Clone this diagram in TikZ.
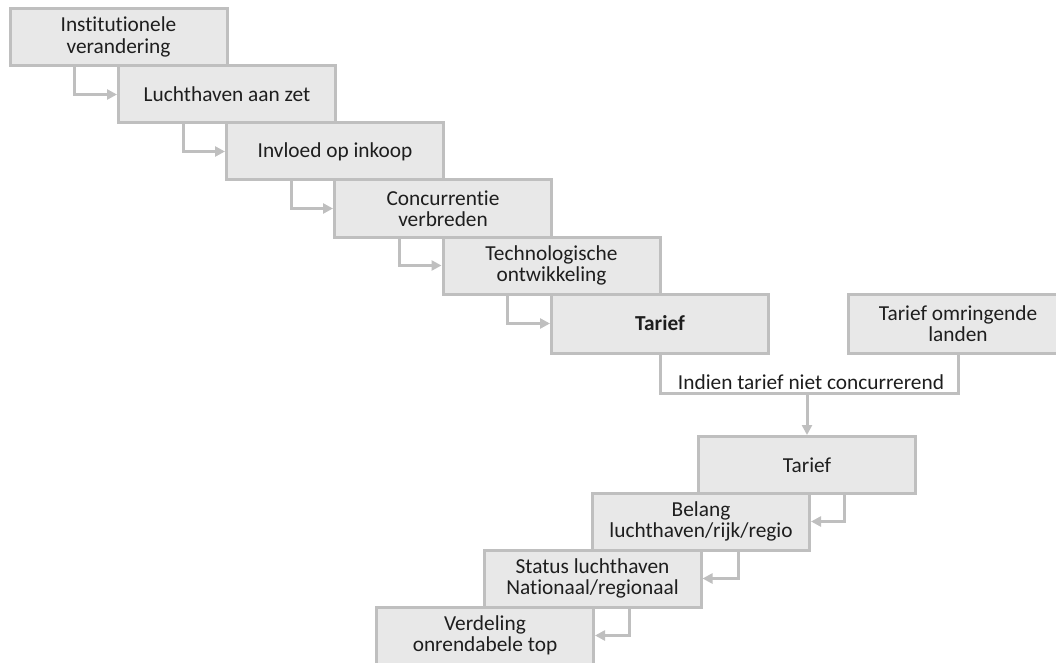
\documentclass[tikz,border=0pt]{standalone}
\usepackage{fontspec}
\setmainfont{Carlito}[Ligatures=NoCommon]
\usetikzlibrary{arrows.meta}
\definecolor{vakvul}{HTML}{E8E8E8}
\definecolor{vaklijn}{HTML}{BFBFBF}
\definecolor{tekstkleur}{HTML}{1E1E1E}
\begin{document}
\begin{tikzpicture}[x=0.75pt,y=-0.75pt,
	fase/.style={draw=vaklijn, fill=vakvul, line width=2.25pt, minimum width=162.75pt, minimum height=42.75pt, align=center, inner sep=1pt, text=tekstkleur, font=\fontsize{16}{16}\selectfont},
	verbind/.style={draw=vaklijn, line width=2.25pt},
	link/.style={verbind, -{Triangle[length=7.5pt,width=7.5pt]}},
	]
	\useasboundingbox (0,0) rectangle (1056,663);
	% Trap naar beneden
	\node[fase] (inst) at (118.5,37) {Institutionele\\verandering};
	\node[fase] (luch) at (227,94.5) {Luchthaven aan zet};
	\node[fase] (invl) at (335,151.5) {Invloed op inkoop};
	\node[fase] (conc) at (443,208.5) {Concurrentie\\verbreden};
	\node[fase] (tech) at (551.5,265.5) {Technologische\\ontwikkeling};
	\node[fase, minimum height=44.25pt] (tar) at (660,323.5) {\textbf{Tarief}};
	\node[fase, minimum width=165pt, minimum height=44.25pt] (land) at (958,323.5) {Tarief omringende\\landen};
	% Elbow pijlen
	\draw[link] ([xshift=49.5pt]inst.south west) |- (luch.west);
	\draw[link] ([xshift=49.5pt]luch.south west) |- (invl.west);
	\draw[link] ([xshift=49.5pt]invl.south west) |- (conc.west);
	\draw[link] ([xshift=49.5pt]conc.south west) |- (tech.west);
	\draw[link] ([xshift=49.5pt]tech.south west) |- (tar.west);
	% Splitsing
	\coordinate (split) at (807,393);
	\draw[verbind] (tar.south) |- (split) -| (land.south);
	\node[text=tekstkleur, font=\fontsize{16}{16}\selectfont, above, inner sep=2pt] (indien) at (811,393) {Indien tarief niet concurrerend};
	% Trap terug
	\node[fase] (tar2) at (807,465) {Tarief};
	\node[fase] (bel) at (701,521.5) {Belang\\luchthaven/rijk/regio};
	\node[fase] (stat) at (592.5,578.5) {Status luchthaven\\Nationaal/regionaal};
	\node[fase] (verd) at (485,635.5) {Verdeling\\onrendabele top};
	\draw[link] (split) -- (tar2.north);
	\draw[link] ([xshift=-54.75pt]tar2.south east) |- (bel.east);
	\draw[link] ([xshift=-54.75pt]bel.south east) |- (stat.east);
	\draw[link] ([xshift=-54.75pt]stat.south east) |- (verd.east);
\end{tikzpicture}
\end{document}
